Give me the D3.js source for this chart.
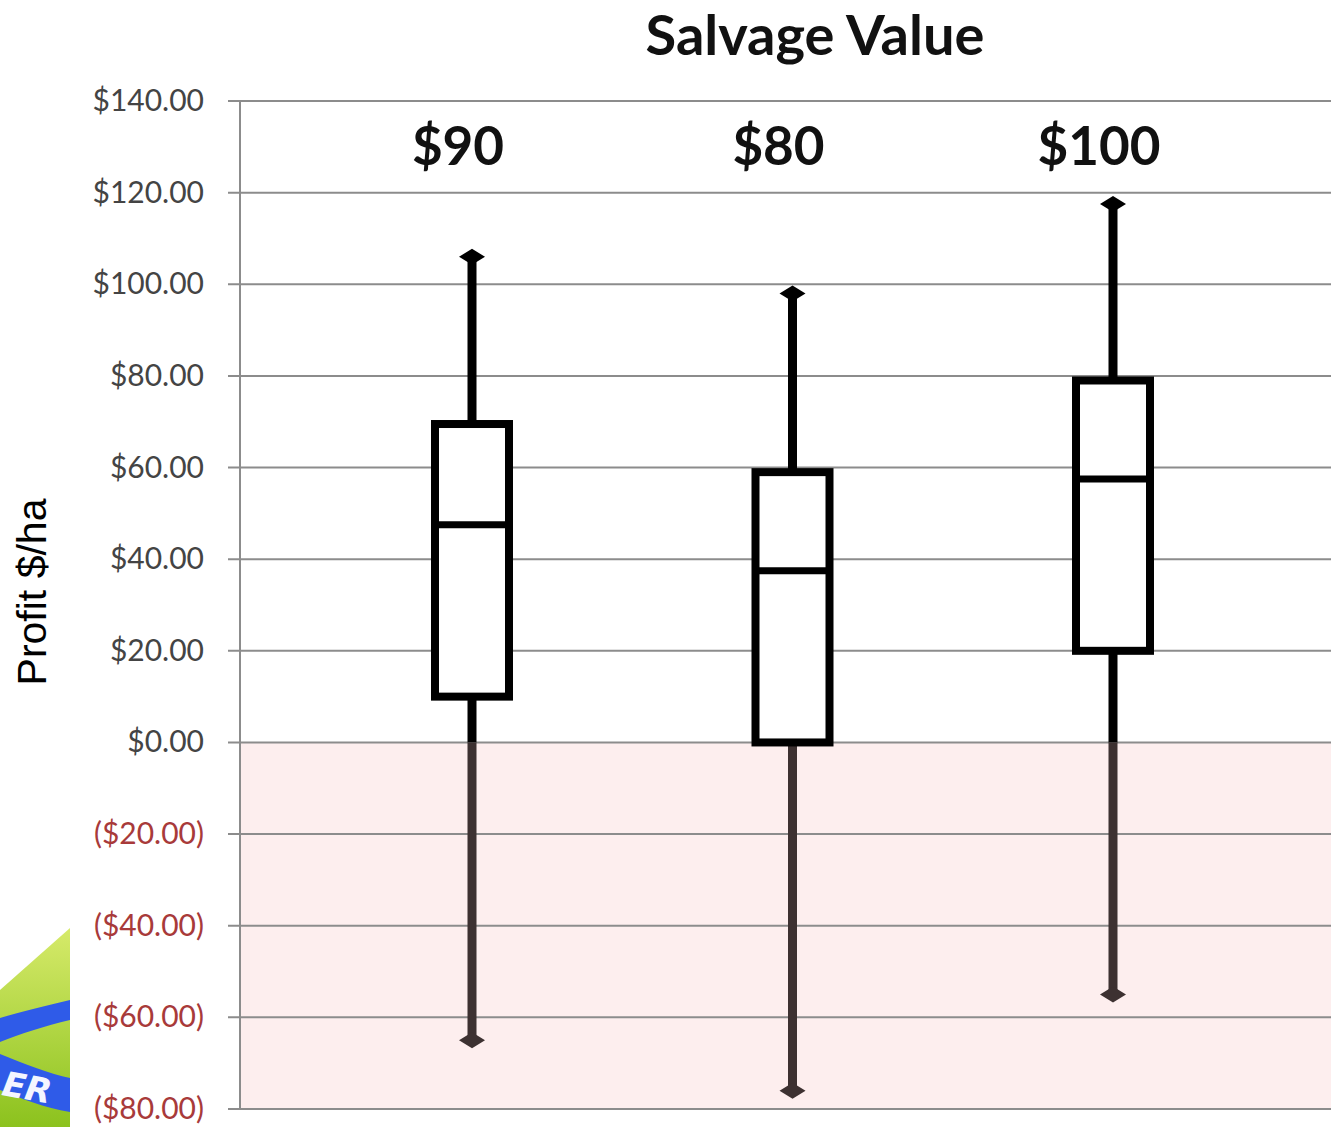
<!DOCTYPE html>
<html>
<head>
<meta charset="utf-8">
<script src="https://cdn.jsdelivr.net/npm/d3@7"></script>
<style>
  body { margin: 0; background: #fff; }
  svg { display: block; }
</style>
</head>
<body>
<svg width="1331" height="1127"></svg>
<script>
// data
var categories = ["$90", "$80", "$100"];
var whiskerMax = [106, 98, 117.5];
var q3 = [69.5, 59, 79];
var median = [47.5, 37.5, 57.5];
var q1 = [10, 0, 20];
var whiskerMin = [-65, -76, -55];
var tickValues = [140, 120, 100, 80, 60, 40, 20, 0, -20, -40, -60, -80];

var svg = d3.select("svg"),
    width = +svg.attr("width"),
    height = +svg.attr("height");

var plotLeft = 240, plotRight = 1331, plotTop = 101, plotBottom = 1109;

var y = d3.scaleLinear().domain([-80, 140]).range([plotBottom, plotTop]);
var x = d3.scalePoint().domain(categories).range([472, 1113]);

var fmt = function(v) {
  var s = "$" + d3.format(".2f")(Math.abs(v));
  return v < 0 ? "(" + s + ")" : s;
};

// logo bottom-left
var defs = svg.append("defs");
var grad = defs.append("linearGradient").attr("id", "lg")
    .attr("x1", 0).attr("y1", 0).attr("x2", 0).attr("y2", 1);
grad.append("stop").attr("offset", "0%").attr("stop-color", "#d6ea6a");
grad.append("stop").attr("offset", "100%").attr("stop-color", "#8cc21e");
defs.append("clipPath").attr("id", "logoclip")
  .append("rect").attr("x", 0).attr("y", 900).attr("width", 70).attr("height", 227);
var logo = svg.append("g").attr("clip-path", "url(#logoclip)");
logo.append("path").attr("fill", "url(#lg)")
    .attr("d", "M0,990 L70,928 L70,1127 L0,1127 Z");
logo.append("path").attr("fill", "#2f5be8")
    .attr("d", "M0,1018 C20,1012 45,1006 70,1000 L70,1020 C45,1026 20,1034 0,1042 Z");
logo.append("path").attr("fill", "#2f5be8")
    .attr("d", "M0,1054 C25,1064 50,1074 70,1078 L70,1112 C45,1108 20,1098 0,1090 Z");
logo.append("text").attr("x", 2).attr("y", 1100)
    .attr("transform", "rotate(10,30,1090)")
    .style("font-family", "DejaVu Sans").style("font-weight", "bold")
    .style("font-style", "italic").style("font-size", "34px")
    .attr("fill", "#f4f6ff").text("ER");

// negative region
svg.append("rect")
    .attr("x", plotLeft).attr("y", y(0))
    .attr("width", plotRight - plotLeft).attr("height", y(-80) - y(0))
    .attr("fill", "#fdeeee");

// gridlines + ticks
var ax = svg.append("g").attr("class", "axis");
ax.selectAll("line.grid")
  .data(tickValues)
  .enter().append("line")
    .attr("class", "grid")
    .attr("x1", 228).attr("x2", plotRight)
    .attr("y1", function(d) { return y(d); })
    .attr("y2", function(d) { return y(d); })
    .attr("stroke", "#8c8c8c").attr("stroke-width", 2);
ax.append("line")
    .attr("x1", plotLeft).attr("x2", plotLeft)
    .attr("y1", plotTop).attr("y2", plotBottom)
    .attr("stroke", "#8c8c8c").attr("stroke-width", 2);
ax.selectAll("text.tick")
  .data(tickValues)
  .enter().append("text")
    .attr("class", "tick")
    .attr("x", 204)
    .attr("y", function(d) { return y(d) + 10; })
    .attr("text-anchor", "end")
    .style("font-family", "Lato, 'Open Sans', sans-serif")
    .style("font-size", "30px")
    .attr("fill", function(d) { return d < 0 ? "#a83a3a" : "#444"; })
    .text(fmt);

// boxes
var boxW = 74;
var boxes = svg.append("g").selectAll("g")
  .data(categories)
  .enter().append("g");

function cap(cx, cy) {
  return "M" + (cx - 13) + "," + cy + " L" + cx + "," + (cy - 8) +
         " L" + (cx + 13) + "," + cy + " L" + cx + "," + (cy + 8) + " Z";
}

boxes.append("line")
    .attr("x1", function(d) { return x(d); })
    .attr("x2", function(d) { return x(d); })
    .attr("y1", function(d, i) { return y(whiskerMax[i]); })
    .attr("y2", function(d, i) { return y(q3[i]); })
    .attr("stroke", "#000").attr("stroke-width", 9);
boxes.append("line")
    .attr("x1", function(d) { return x(d); })
    .attr("x2", function(d) { return x(d); })
    .attr("y1", function(d, i) { return y(q1[i]); })
    .attr("y2", function(d, i) { return y(Math.max(0, whiskerMin[i])); })
    .attr("stroke", "#000").attr("stroke-width", 9);
boxes.append("line")
    .attr("x1", function(d) { return x(d); })
    .attr("x2", function(d) { return x(d); })
    .attr("y1", function(d, i) { return y(Math.min(0, q1[i])); })
    .attr("y2", function(d, i) { return y(whiskerMin[i]); })
    .attr("stroke", "#3d3131").attr("stroke-width", 9);
boxes.append("path")
    .attr("d", function(d, i) { return cap(x(d), y(whiskerMax[i])); })
    .attr("fill", "#000");
boxes.append("path")
    .attr("d", function(d, i) { return cap(x(d), y(whiskerMin[i])); })
    .attr("fill", "#3d3131");
boxes.append("rect")
    .attr("x", function(d) { return x(d) - boxW / 2; })
    .attr("width", boxW)
    .attr("y", function(d, i) { return y(q3[i]); })
    .attr("height", function(d, i) { return y(q1[i]) - y(q3[i]); })
    .attr("fill", "#fff").attr("stroke", "#000").attr("stroke-width", 8);
boxes.append("line")
    .attr("x1", function(d) { return x(d) - boxW / 2; })
    .attr("x2", function(d) { return x(d) + boxW / 2; })
    .attr("y1", function(d, i) { return y(median[i]); })
    .attr("y2", function(d, i) { return y(median[i]); })
    .attr("stroke", "#000").attr("stroke-width", 7);

// category labels
boxes.append("text")
    .attr("x", function(d) { return x(d) - 14; })
    .attr("y", 165)
    .attr("text-anchor", "middle")
    .style("font-family", "Lato, 'Open Sans', sans-serif")
    .style("font-weight", "bold")
    .style("font-size", "53px")
    .attr("fill", "#111")
    .text(function(d) { return d; });

// title
svg.append("text")
    .attr("x", 815).attr("y", 55)
    .attr("text-anchor", "middle")
    .style("font-family", "Lato, 'Open Sans', sans-serif")
    .style("font-weight", "bold")
    .style("font-size", "56px")
    .attr("fill", "#111")
    .text("Salvage Value");

// y axis title
svg.append("text")
    .attr("transform", "translate(46,592) rotate(-90)")
    .attr("text-anchor", "middle")
    .style("font-family", "'Liberation Sans', Arial, sans-serif")
    .style("font-size", "41px")
    .attr("fill", "#000")
    .text("Profit $/ha");
</script>
</body>
</html>
